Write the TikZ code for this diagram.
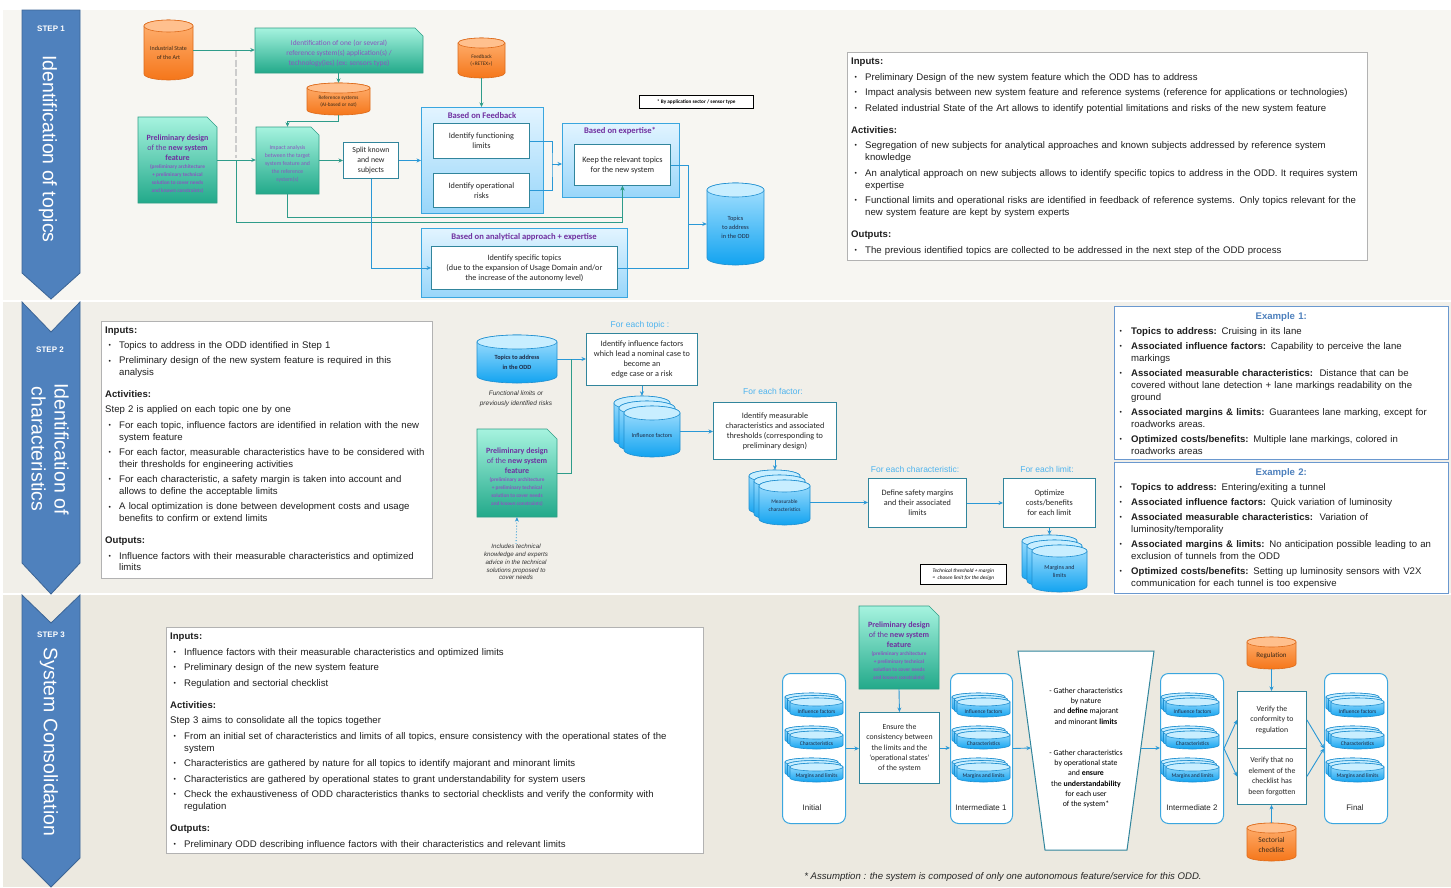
\documentclass[tikz,border=0pt]{standalone}
\usepackage{fontspec}
\setmainfont{Liberation Sans}
\newfontfamily\calib{Carlito}
\usetikzlibrary{arrows.meta}
\definecolor{bandA}{HTML}{F7F6F2}
\definecolor{bandB}{HTML}{F1EFE9}
\definecolor{bandC}{HTML}{ECE9E0}
\definecolor{chevF}{HTML}{4F81BD}
\definecolor{chevD}{HTML}{3C6596}
\definecolor{purp}{HTML}{7030A0}
\definecolor{purpl}{HTML}{8A55C0}
\definecolor{tealA}{HTML}{A6F3DF}
\definecolor{tealB}{HTML}{22A98A}
\definecolor{tealD}{HTML}{2E9E86}
\definecolor{orA}{HTML}{FFB273}
\definecolor{orB}{HTML}{F5761A}
\definecolor{orD}{HTML}{DD6A1A}
\definecolor{orT}{HTML}{FFC08E}
\definecolor{blA}{HTML}{A9E2FF}
\definecolor{blB}{HTML}{12A3F0}
\definecolor{blD}{HTML}{1F8FD0}
\definecolor{blT}{HTML}{C8EEFF}
\definecolor{grpA}{HTML}{E2F4FF}
\definecolor{grpB}{HTML}{98D6FA}
\definecolor{grpD}{HTML}{3AA6DF}
\definecolor{boxD}{HTML}{31859C}
\definecolor{lnT}{HTML}{2E9C8A}
\definecolor{lnB}{HTML}{2A98D6}
\definecolor{lbl}{HTML}{4DB3EE}
\definecolor{exD}{HTML}{6A98CF}
\definecolor{exT}{HTML}{4F81BD}
\definecolor{cytx}{HTML}{1F2A44}
\definecolor{ortx}{HTML}{3A2A1A}

\newlength\bind \setlength\bind{14pt}
\newcommand\smallbullet{\raisebox{0.8pt}{\scalebox{0.7}{\textbullet}}}
\newcommand\bi[1]{\par\hangindent=\bind\hangafter=1\noindent\hbox to \bind{\hskip 3.5pt\smallbullet\hfil}#1}
\newcommand\hdr[1]{\par\noindent\textbf{#1}}
\newcommand\hdrs[1]{\par\vspace{6.5pt}\noindent\textbf{#1}}
\newcommand\pl[1]{\par\noindent #1}
\newcommand\nl{\hfil\break}

\tikzset{
 arr/.style={-{Stealth[length=4.5pt,width=4pt]}},
 lnteal/.style={draw=lnT, line width=0.9pt},
 lnblue/.style={draw=lnB, line width=0.9pt},
 wbox/.style={draw=boxD, line width=0.9pt, fill=white, align=center, inner sep=0pt, anchor=north west, font=\calib\fontsize{8.2}{10}\selectfont, text=black!85},
 grpbox/.style={draw=grpD, line width=1pt, top color=grpA, bottom color=grpB, anchor=north west, inner sep=0pt},
 grptitle/.style={font=\calib\bfseries\fontsize{8.6}{10}\selectfont, text=purp, inner sep=0pt},
 cylO/.style={draw=orD, line width=0.6pt, top color=orA, bottom color=orB},
 cylOtop/.style={draw=orD, line width=0.6pt, fill=orT},
 cylB/.style={draw=blD, line width=0.6pt, top color=blA, bottom color=blB},
 cylBtop/.style={draw=blD, line width=0.6pt, fill=blT},
 docsh/.style={draw=tealD, line width=0.7pt, top color=tealA, bottom color=tealB},
 doctext/.style={align=flush center, inner sep=0pt, text=purp},
 cyltext/.style={align=flush center, inner sep=0pt, text=cytx},
 infobox/.style={draw=gray!60, line width=0.8pt, fill=white, anchor=north west, inner sep=0pt},
 infotext/.style={align=left, inner sep=0pt, anchor=north west, font=\fontsize{9.6}{12}\selectfont, text=black!88},
 exbox/.style={draw=exD, line width=1pt, fill=white, anchor=north west, inner sep=0pt},
 eachlbl/.style={font=\fontsize{8.5}{10}\selectfont, text=lbl, inner sep=0pt},
 itnote/.style={align=center, inner sep=0pt, font=\itshape\fontsize{6.5}{9.5}\selectfont, text=black!80},
 notebox/.style={draw=black, line width=0.6pt, fill=white, anchor=north west, inner sep=0pt, align=center},
 contbox/.style={draw=grpD, line width=1pt, fill=white, rounded corners=8pt, anchor=north west, inner sep=0pt},
 contlbl/.style={font=\fontsize{8}{10}\selectfont, inner sep=0pt, text=black!85},
 chevsh/.style={fill=chevF, draw=chevD, line width=0.8pt},
 steplbl/.style={font=\bfseries\fontsize{8}{10}\selectfont, text=white, inner sep=0pt},
 steptitle/.style={rotate=-90, align=center, font=\fontsize{19.5}{23}\selectfont, text=white, inner sep=0pt},
}

% cylinder: [style]{name}{x1}{y1 top}{x2}{y2 bottom}{ry}{font}{text}  (pixel coords, y downwards)
\newcommand\Cyl[9][cylB]{%
 \pgfmathsetmacro\cyXa{#3}\pgfmathsetmacro\cyXb{#5}%
 \pgfmathsetmacro\cyYa{-(#4)}\pgfmathsetmacro\cyYb{-(#6)}%
 \pgfmathsetmacro\cyRx{(\cyXb-\cyXa)/2}\pgfmathsetmacro\cyXm{(\cyXa+\cyXb)/2}%
 \pgfmathsetmacro\cyYm{(\cyYa+\cyYb)/2}\pgfmathsetmacro\cyRy{#7}%
 \pgfmathsetmacro\cyW{\cyXb-\cyXa}\pgfmathsetmacro\cyH{\cyYa-\cyYb}%
 \pgfmathsetmacro\cyToff{\cyRy*ifthenelse(\cyH<30,1,0.5)}%
 \path[#1] (\cyXa,\cyYa-\cyRy) -- (\cyXa,\cyYb+\cyRy) arc[start angle=180,end angle=360,x radius=\cyRx,y radius=\cyRy] -- (\cyXb,\cyYa-\cyRy) arc[start angle=0,end angle=180,x radius=\cyRx,y radius=\cyRy] -- cycle;
 \path[#1top] (\cyXm,\cyYa-\cyRy) ellipse[x radius=\cyRx,y radius=\cyRy];
 \node[inner sep=0pt,minimum width=\cyW,minimum height=\cyH] (#2) at (\cyXm,\cyYm) {};
 \node[cyltext,font=#8,text width=\cyW pt] (#2t) at (\cyXm,\cyYm-\cyToff) {#9};
}
% stacked cylinders: [style]{name}{x1}{y1}{x2}{y2}{ry}{font}{text}
\newcommand\Stack[9][cylB]{%
 \pgfmathsetmacro\stD{ifthenelse((#6)-(#4)<30,2.5,5)}%
 \Cyl[#1]{#2c}{#3-2*\stD}{#4-2*\stD}{#5-2*\stD}{#6-2*\stD}{#7}{#8}{}%
 \Cyl[#1]{#2b}{#3-\stD}{#4-\stD}{#5-\stD}{#6-\stD}{#7}{#8}{}%
 \Cyl[#1]{#2}{#3}{#4}{#5}{#6}{#7}{#8}{#9}%
}
% document shape with cut corner: {name}{x1}{y1}{x2}{y2}{cut}{font}{text}
\newcommand\Doc[8]{%
 \path[docsh] (#2,-#3) -- (#4-#6,-#3) -- (#4,-#3-#6) -- (#4,-#5) -- (#2,-#5) -- cycle;
 \pgfmathsetmacro\dcW{#4-#2}\pgfmathsetmacro\dcH{#5-#3}\pgfmathsetmacro\dcT{#4-#2-4}%
 \node[inner sep=0pt, minimum width=\dcW, minimum height=\dcH] (#1) at ({(#2+#4)/2},{-(#3+#5)/2}) {};
 \node[doctext, font=#7, text width=\dcT pt] (#1t) at ({(#2+#4)/2},{-(#3+#5)/2-0.4*#6}) {#8};
}
\newcommand\prefont{\calib\fontsize{8}{10}\selectfont}
\newcommand\pretext{\textbf{Preliminary design}\\of the \textbf{new system}\\\textbf{feature}\\{\color{purpl}\fontsize{5.3}{8}\selectfont\bfseries (preliminary architecture\\+ preliminary technical\\solution to cover needs\\and known constraints)\par}}
\newcommand\sfont{\calib\fontsize{5.6}{6.5}\selectfont}

\begin{document}
\begin{tikzpicture}[x=1pt,y=1pt]
\useasboundingbox (0,0) rectangle (1451,-887);
\fill[white] (0,0) rectangle (1451,-887);
\fill[bandA] (3,-10) rectangle (1451,-299.5);
\fill[bandB] (3,-302) rectangle (1451,-592.5);
\fill[bandC] (3,-595) rectangle (1451,-887);

% ---------- chevrons ----------
\path[chevsh] (22,-10) -- (80,-10) -- (80,-273) -- (51,-299) -- (22,-273) -- cycle;
\path[chevsh] (22,-302) -- (51,-332) -- (80,-302) -- (80,-563) -- (51,-594) -- (22,-563) -- cycle;
\path[chevsh] (22,-595) -- (51,-623) -- (80,-595) -- (80,-858) -- (51,-887) -- (22,-858) -- cycle;
\node[steplbl] (st1) at (51,-29) {STEP 1};
\node[steptitle] (st1t) at (48,-149) {Identification of topics};
\node[steplbl] (st2) at (50,-350) {STEP 2};
\node[steptitle] (st2t) at (50,-449) {Identification of\\characteristics};
\node[steplbl] (st3) at (51,-635) {STEP 3};
\node[steptitle] (st3t) at (49,-742) {System Consolidation};

% ================= STEP 1 =================
\Cyl[cylO]{s1ind}{144}{20}{193}{80}{6}{\calib\fontsize{6}{8.5}\selectfont}{\color{ortx}Industrial State\\of the Art}
\Doc{s1iden}{255}{28}{423}{73}{8}{\calib\fontsize{7.4}{10}\selectfont}{\color{purpl}Identification of one (or several)\\reference system(s) application(s) /\\technology(ies) (ex: sensors type)}
\Cyl[cylO]{s1ref}{307}{83}{370}{115}{5}{\calib\fontsize{5.3}{7}\selectfont}{\color{ortx}Reference systems\\(AI-based or not)}
\Doc{s1pre}{138}{117}{217}{203}{10}{\prefont}{\pretext}
\Doc{s1imp}{256}{127}{319}{194}{8}{\calib\fontsize{5.8}{8}\selectfont}{\color{purpl}Impact analysis\\between the target\\system feature and\\the reference\\system(s)}
\node[wbox, minimum width=55, minimum height=36, font=\calib\fontsize{7.8}{10}\selectfont] (s1split) at (343,-142) {Split known\\and new\\subjects};
\Cyl[cylO]{s1fbc}{458}{38}{505}{78}{5}{\calib\fontsize{5.3}{7}\selectfont}{\color{ortx}Feedback\\(«RETEX»)}
\node[grpbox, minimum width=122, minimum height=106] (s1fb) at (421,-107) {};
\node[grptitle] (s1fbt) at (482,-116) {Based on Feedback};
\node[wbox, minimum width=96, minimum height=35] (s1func) at (433,-123) {Identify functioning\\limits};
\node[wbox, minimum width=96, minimum height=34] (s1risk) at (433,-173) {Identify operational\\risks};
\node[grpbox, minimum width=117, minimum height=74] (s1exp) at (562,-123) {};
\node[grptitle] (s1expt) at (620,-131) {Based on expertise*};
\node[wbox, minimum width=96, minimum height=41] (s1keep) at (574,-144) {Keep the relevant topics\\for the new system};
\node[notebox, minimum width=114, minimum height=13, font=\calib\bfseries\fontsize{5.2}{6}\selectfont] (s1note) at (639,-95) {* By application sector / sensor type};
\node[grpbox, minimum width=206, minimum height=69] (s1ana) at (421,-228) {};
\node[grptitle] (s1anat) at (524,-237) {Based on analytical approach + expertise};
\node[wbox, minimum width=186, minimum height=43] (s1spec) at (431,-246) {Identify specific topics\\(due to the expansion of Usage Domain and/or\\the increase of the autonomy level)};
\Cyl[cylB]{s1top}{707}{183}{764}{265}{7}{\calib\fontsize{6.3}{9}\selectfont}{Topics\\to address\\in the ODD}

% step 1 connectors
\coordinate (s1d1) at (236,-50);
\coordinate (s1d2) at (236,-158);
\coordinate (s1j1) at (236,-160);
\coordinate (s1m1) at (552,-164);
\coordinate (s1m2) at (688,-224);
\draw[draw=gray!40, line width=1.4pt, dash pattern=on 7pt off 2.5pt] (s1d1) -- (s1d2);
\draw[lnteal,arr] (s1ind.east) -- (s1ind.east -| s1iden.west);
\draw[lnteal,arr] (s1ref.north |- s1iden.south) -- (s1ref.north);
\draw[lnteal,arr] (s1ref.south) -- ++(0,-6) -| (s1imp.north);
\draw[lnteal,arr] (s1pre.east) -- (s1pre.east -| s1imp.west);
\draw[lnteal,arr] (s1j1) |- ([yshift=-37pt]s1keep.south) -- (s1keep.south);
\draw[lnteal,arr] (s1imp.south) |- ([yshift=-32pt]s1keep.south) -- (s1keep.south);
\draw[lnteal,arr] (s1imp.east) -- (s1imp.east -| s1split.west);
\draw[lnblue,arr] (s1split.east) -- (s1split.east -| s1fb.west);
\draw[lnblue,arr] (s1split.south) |- (s1spec.west);
\draw[lnteal,arr] (s1fbc.south) -- (s1fbc.south |- s1fb.north);
\draw[lnblue] (s1func.east) -| (s1m1) |- (s1risk.east);
\draw[lnblue,arr] (s1m1) -- (s1m1 -| s1exp.west);
\draw[lnblue] (s1keep.east) -| (s1m2);
\draw[lnblue] (s1spec.east) -| (s1m2);
\draw[lnblue,arr] (s1m2) -- (s1m2 -| s1top.west);

% step 1 info
\node[infobox, minimum width=520, minimum height=208] (s1info) at (847,-52) {};
\node[infotext, text width=515] (s1infot) at (851,-52.5) {%
\hdr{Inputs:}\setlength\parskip{3.5pt}
\bi{Preliminary Design of the new system feature which the ODD has to address}
\bi{Impact analysis between new system feature and reference systems (reference for applications or technologies)}
\bi{Related industrial State of the Art allows to identify potential limitations and risks of the new system feature}
\hdrs{Activities:}
\bi{Segregation of new subjects for analytical approaches and known subjects addressed by reference system\nl knowledge}
\bi{An analytical approach on new subjects allows to identify specific topics to address in the ODD. It requires system\nl expertise}
\bi{Functional limits and operational risks are identified in feedback of reference systems. Only topics relevant for the\nl new system feature are kept by system experts}
\hdrs{Outputs:}
\bi{The previous identified topics are collected to be addressed in the next step of the ODD process}\par};

% ================= STEP 2 =================
\node[infobox, minimum width=331, minimum height=257] (s2info) at (101,-321) {};
\node[infotext, text width=330, font=\fontsize{9.6}{11.8}\selectfont] (s2infot) at (105,-321) {%
\hdr{Inputs:}\setlength\parskip{3.6pt}
\bi{Topics to address in the ODD identified in Step 1}
\bi{Preliminary design of the new system feature is required in this\nl analysis}
\hdrs{Activities:}
\pl{Step 2 is applied on each topic one by one}
\bi{For each topic, influence factors are identified in relation with the new\nl system feature}
\bi{For each factor, measurable characteristics have to be considered with\nl their thresholds for engineering activities}
\bi{For each characteristic, a safety margin is taken into account and\nl allows to define the acceptable limits}
\bi{A local optimization is done between development costs and usage\nl benefits to confirm or extend limits}
\hdrs{Outputs:}
\bi{Influence factors with their measurable characteristics and optimized\nl limits}\par};

\node[eachlbl] (s2l1) at (640,-325) {For each topic :};
\Cyl[cylB]{s2top}{477}{335}{557}{383}{7}{\calib\bfseries\fontsize{6.3}{9.5}\selectfont}{Topics to address\\in the ODD}
\node[itnote] (s2fl) at (516,-399) {Functional limits or\\previously identified risks};
\node[wbox, minimum width=111, minimum height=52] (s2if) at (586,-333) {Identify influence factors\\which lead a nominal case to\\become an\\edge case or a risk};
\Doc{s2pre}{477}{429}{557}{517}{10}{\prefont}{\pretext}
\node[itnote, font=\itshape\fontsize{6.2}{7.8}\selectfont] (s2inc) at (516,-562) {Includes technical\\knowledge and experts\\advice in the technical\\solutions proposed to\\cover needs};
\Stack[cylB]{s2inf}{624}{406}{680}{457}{7}{\calib\fontsize{6}{7}\selectfont}{Influence factors}
\node[eachlbl] (s2l2) at (773,-391) {For each factor:};
\node[wbox, minimum width=123, minimum height=57] (s2meas) at (713,-402) {Identify measurable\\characteristics and associated\\thresholds (corresponding to\\preliminary design)};
\Stack[cylB]{s2mc}{759}{480}{810}{525}{6}{\calib\fontsize{5.5}{7.5}\selectfont}{Measurable\\characteristics}
\node[eachlbl] (s2l3) at (915,-469) {For each characteristic:};
\node[wbox, minimum width=98, minimum height=49] (s2def) at (868,-478) {Define safety margins\\and their associated\\limits};
\node[eachlbl] (s2l4) at (1047,-469) {For each limit:};
\node[wbox, minimum width=92, minimum height=49] (s2opt) at (1003,-478) {Optimize\\costs/benefits\\for each limit};
\Stack[cylB]{s2ml}{1032}{545}{1087}{592}{6}{\calib\fontsize{6}{8.5}\selectfont}{Margins and\\limits}
\node[notebox, minimum width=86, minimum height=20, font=\calib\itshape\fontsize{5.3}{7}\selectfont] (s2note) at (920,-564) {Technical threshold + margin\\=\ \ chosen limit for the design};

% step 2 connectors
\coordinate (s2n1) at (571,-359);
\draw[lnblue,arr] (s2top.east) -- (s2top.east -| s2if.west);
\draw[lnteal] (s2pre.east) -| (s2n1);
\draw[lnblue,dotted,arr] (s2inc.north) -- (s2pre.south);
\draw[lnblue,arr] (s2if.south) -- (s2if.south |- s2infc.north);
\draw[lnblue,arr] (s2inf.east) -- (s2inf.east -| s2meas.west);
\draw[lnblue,arr] (s2meas.south) -- (s2meas.south |- s2mcc.north);
\draw[lnblue,arr] (s2mc.east) -- (s2mc.east -| s2def.west);
\draw[lnblue,arr] (s2def.east) -- (s2opt.west);
\draw[lnblue,arr] (s2opt.south) -- (s2opt.south |- s2mlc.north);

% examples
\node[exbox, minimum width=334, minimum height=153] (s2ex1) at (1114,-306) {};
\node[infotext, text width=330] (s2ex1t) at (1116,-307.5) {\setlength\bind{15pt}%
\par\noindent\hbox to \hsize{\hfil\textcolor{exT}{\textbf{Example 1:}}\hfil}\setlength\parskip{3pt}
\bi{\textbf{Topics to address:} Cruising in its lane}
\bi{\textbf{Associated influence factors:} Capability to perceive the lane\nl markings}
\bi{\textbf{Associated measurable characteristics:}\ \ Distance that can be\nl covered without lane detection + lane markings readability on the\nl ground}
\bi{\textbf{Associated margins \& limits:} Guarantees lane marking, except for\nl roadworks areas.}
\bi{\textbf{Optimized costs/benefits:} Multiple lane markings, colored in\nl roadworks areas}\par};
\node[exbox, minimum width=334, minimum height=131] (s2ex2) at (1114,-462) {};
\node[infotext, text width=330] (s2ex2t) at (1116,-463.5) {\setlength\bind{15pt}%
\par\noindent\hbox to \hsize{\hfil\textcolor{exT}{\textbf{Example 2:}}\hfil}\setlength\parskip{3pt}
\bi{\textbf{Topics to address:} Entering/exiting a tunnel}
\bi{\textbf{Associated influence factors:} Quick variation of luminosity}
\bi{\textbf{Associated measurable characteristics:}\ \ Variation of\nl luminosity/temporality}
\bi{\textbf{Associated margins \& limits:} No anticipation possible leading to an\nl exclusion of tunnels from the ODD}
\bi{\textbf{Optimized costs/benefits:} Setting up luminosity sensors with V2X\nl communication for each tunnel is too expensive}\par};

% ================= STEP 3 =================
\node[infobox, minimum width=537, minimum height=226] (s3info) at (166,-627) {};
\node[infotext, text width=535] (s3infot) at (170,-627.5) {%
\hdr{Inputs:}\setlength\parskip{3.5pt}
\bi{Influence factors with their measurable characteristics and optimized limits}
\bi{Preliminary design of the new system feature}
\bi{Regulation and sectorial checklist}
\hdrs{Activities:}
\pl{Step 3 aims to consolidate all the topics together}
\bi{From an initial set of characteristics and limits of all topics, ensure consistency with the operational states of the\nl system}
\bi{Characteristics are gathered by nature for all topics to identify majorant and minorant limits}
\bi{Characteristics are gathered by operational states to grant understandability for system users}
\bi{Check the exhaustiveness of ODD characteristics thanks to sectorial checklists and verify the conformity with\nl regulation}
\hdrs{Outputs:}
\bi{Preliminary ODD describing influence factors with their characteristics and relevant limits}\par};

% containers
\node[contbox, minimum width=63, minimum height=150] (s3ini) at (782,-673) {};
\node[contbox, minimum width=62, minimum height=150] (s3int1) at (950,-673) {};
\node[contbox, minimum width=63, minimum height=150] (s3int2) at (1160,-673) {};
\node[contbox, minimum width=63, minimum height=150] (s3fin) at (1324,-673) {};
\node[contlbl] (s3inil) at (812,-808) {Initial};
\node[contlbl] (s3int1l) at (981,-808) {Intermediate 1};
\node[contlbl] (s3int2l) at (1192,-808) {Intermediate 2};
\node[contlbl] (s3finl) at (1355,-808) {Final};
\Stack[cylB]{s3aif}{790}{698}{843}{717}{4}{\sfont}{Influence factors}
\Stack[cylB]{s3ach}{790}{731}{843}{749}{4}{\sfont}{Characteristics}
\Stack[cylB]{s3aml}{790}{763}{843}{782}{4}{\sfont}{Margins and limits}
\Stack[cylB]{s3bif}{957}{698}{1010}{717}{4}{\sfont}{Influence factors}
\Stack[cylB]{s3bch}{957}{731}{1010}{749}{4}{\sfont}{Characteristics}
\Stack[cylB]{s3bml}{957}{763}{1010}{782}{4}{\sfont}{Margins and limits}
\Stack[cylB]{s3cif}{1166}{698}{1219}{717}{4}{\sfont}{Influence factors}
\Stack[cylB]{s3cch}{1166}{731}{1219}{749}{4}{\sfont}{Characteristics}
\Stack[cylB]{s3cml}{1166}{763}{1219}{782}{4}{\sfont}{Margins and limits}
\Stack[cylB]{s3dif}{1331}{698}{1384}{717}{4}{\sfont}{Influence factors}
\Stack[cylB]{s3dch}{1331}{731}{1384}{749}{4}{\sfont}{Characteristics}
\Stack[cylB]{s3dml}{1331}{763}{1384}{782}{4}{\sfont}{Margins and limits}

\Doc{s3pre}{859}{606}{939}{689}{10}{\prefont}{\pretext}
\node[wbox, minimum width=80, minimum height=71, font=\calib\fontsize{7.8}{10.3}\selectfont] (s3ens) at (859,-712) {Ensure the\\consistency between\\the limits and the\\‘operational states’\\of the system};
\draw[draw=boxD, line width=1pt, fill=white] (1018,-651) -- (1154,-651) -- (1127,-850) -- (1045,-850) -- cycle;
\coordinate (s3fl) at (1031,-748);
\coordinate (s3fr) at (1141,-748);
\node[align=center, inner sep=0pt, font=\calib\fontsize{7.8}{10.3}\selectfont] (s3g1) at (1086,-706) {- Gather characteristics\\by nature\\and \textbf{define} majorant\\and minorant \textbf{limits}};
\node[align=center, inner sep=0pt, font=\calib\fontsize{7.8}{10.3}\selectfont] (s3g2) at (1086,-779) {- Gather characteristics\\by operational state\\and \textbf{ensure}\\the \textbf{understandability}\\for each user\\of the system*};
\node[wbox, minimum width=69, minimum height=57, font=\calib\fontsize{7.8}{10.3}\selectfont] (s3ver1) at (1237,-691) {Verify the\\conformity to\\regulation};
\node[wbox, minimum width=69, minimum height=56, font=\calib\fontsize{7.8}{10.6}\selectfont] (s3ver2) at (1237,-748) {Verify that no\\element of the\\checklist has\\been forgotten};
\Cyl[cylO]{s3reg}{1247}{637}{1296}{669}{5}{\calib\fontsize{7}{8}\selectfont}{\color{ortx}Regulation}
\Cyl[cylO]{s3sec}{1247}{823}{1296}{861}{5}{\calib\fontsize{7.4}{10}\selectfont}{\color{ortx}Sectorial\\checklist}

% step 3 connectors
\draw[lnblue,arr] (s3pre.south) -- (s3ens.north);
\draw[lnblue,arr] (s3ini.east) -- (s3ini.east -| s3ens.west);
\draw[lnblue,arr] (s3ens.east) -- (s3ens.east -| s3int1.west);
\draw[lnblue,arr] (s3int1.east) -- (s3fl);
\draw[lnblue,arr] (s3fr) -- (s3fr -| s3int2.west);
\draw[lnblue,arr] (s3int2.east) -- (s3ver1.west);
\draw[lnblue,arr] (s3int2.east) -- (s3ver2.west);
\draw[lnblue,arr] (s3ver1.east) -- (s3fin.west);
\draw[lnblue,arr] (s3ver2.east) -- (s3fin.west);
\draw[lnblue,arr] (s3reg.south) -- (s3reg.south |- s3ver1.north);
\draw[lnblue,arr] (s3sec.north) -- (s3sec.north |- s3ver2.south);

\node[inner sep=0pt, font=\itshape\fontsize{9.6}{11}\selectfont, text=black!85] (foot) at (1003,-877) {* Assumption : the system is composed of only one autonomous feature/service for this ODD.};
\end{tikzpicture}
\end{document}
